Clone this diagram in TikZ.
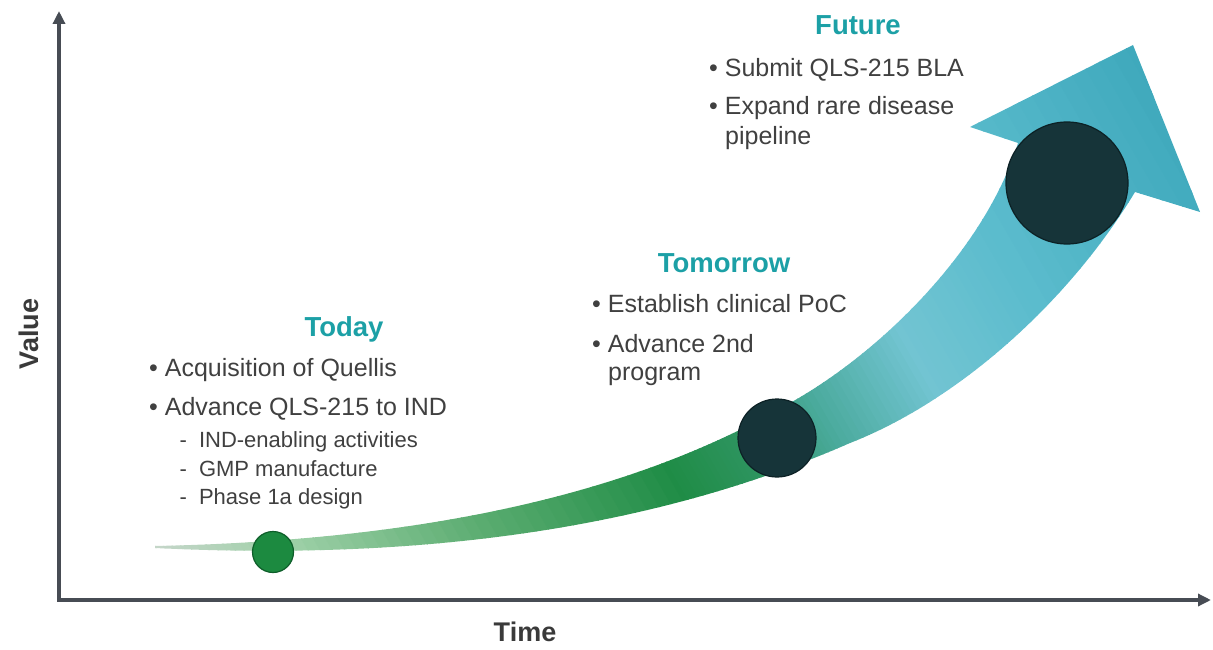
\documentclass[tikz,border=0pt]{standalone}
\usepackage{fontspec}
\setmainfont{Liberation Sans}
\usetikzlibrary{arrows.meta}
\definecolor{axisgray}{HTML}{474C54}
\definecolor{txtgray}{HTML}{404040}
\definecolor{titleteal}{HTML}{1CA0A6}
\definecolor{labgray}{HTML}{3A3A3A}
\definecolor{cA}{HTML}{C4D6C8}
\definecolor{cB}{HTML}{9CCFA6}
\definecolor{cC}{HTML}{5AAC70}
\definecolor{cD}{HTML}{1F8C46}
\definecolor{cE}{HTML}{2E9460}
\definecolor{cF}{HTML}{4AAA9C}
\definecolor{cG}{HTML}{72C4D2}
\definecolor{cH}{HTML}{5BBCCD}
\definecolor{cI}{HTML}{3BA6BA}
\definecolor{dotgreen}{HTML}{1C8A40}
\definecolor{dotgreenedge}{HTML}{0E5E2A}
\definecolor{dotdark}{HTML}{163439}
\definecolor{dotdarkedge}{HTML}{0C2125}
\begin{document}
\begin{tikzpicture}[x=1pt,y=-1pt,
  axis/.style={draw=axisgray,line width=4pt,{Triangle[length=13pt,width=12pt]}-{Triangle[length=13pt,width=12pt]}},
  body/.style={font=\fontsize{25}{30}\selectfont,text=txtgray,anchor=base west,inner sep=0pt},
  subitem/.style={font=\fontsize{22}{26}\selectfont,text=txtgray,anchor=base west,inner sep=0pt},
  phase/.style={font=\bfseries\fontsize{27.5}{33}\selectfont,text=titleteal,anchor=base,inner sep=0pt},
  axislabel/.style={font=\bfseries\fontsize{27}{32}\selectfont,text=labgray,inner sep=0pt},
  milestone/.style={circle,inner sep=0pt,line width=1.2pt}]
\useasboundingbox (0,0) rectangle (1213,650);

% axes
\coordinate (ytip) at (59,11);
\coordinate (origin) at (59,600);
\coordinate (xtip) at (1211,600);
\draw[axis] (ytip) -- (origin) -- (xtip);
\node[axislabel,rotate=90] (value) at (29,334) {Value};
\node[axislabel] (time) at (525,632) {Time};

% growth arrow
\coordinate (tail) at (155,547);
\coordinate (lnotch) at (1018,143);
\coordinate (lbarb) at (970,127);
\coordinate (tip) at (1133,45);
\coordinate (rbarb) at (1200,212);
\coordinate (rnotch) at (1135,192);
\begin{scope}
\clip (155,546) .. controls (450,540) and (650,485) .. (790,403)
  .. controls (880,353) and (985,250) .. (lnotch)
  -- (lbarb) -- (tip) -- (rbarb) -- (rnotch)
  .. controls (1070,300) and (960,400) .. (850,443)
  .. controls (640,535) and (400,560) .. (155,548)
  -- cycle;
\begin{scope}[shift={(tail)},rotate=30]
  \fill[cA] (-200,-900) rectangle (1,900);
  \foreach \sa/\sb/\ca/\cb in {0/120/cA/cB,120/290/cB/cC,290/480/cC/cD,480/560/cD/cE,560/640/cE/cF,640/750/cF/cG,750/880/cG/cH,880/1120/cH/cI}{
    \foreach \i in {0,...,15}{
      \pgfmathsetmacro\ss{\sa+(\sb-\sa)*\i/16}
      \pgfmathsetmacro\ww{(\sb-\sa)/16+1}
      \pgfmathtruncatemacro\pp{100-100*\i/16}
      \fill[\ca!\pp!\cb] (\ss,-900) rectangle ++(\ww,1800);
    }
  }
  \fill[cI] (1119,-900) rectangle (1400,900);
\end{scope}
\end{scope}

% milestones
\node[milestone,fill=dotgreen,draw=dotgreenedge,minimum size=41pt] (today) at (273,552) {};
\node[milestone,fill=dotdark,draw=dotdarkedge,minimum size=78pt] (tomorrow) at (777,438) {};
\node[milestone,fill=dotdark,draw=dotdarkedge,minimum size=122pt] (future) at (1067,183) {};

% Today
\node[phase] (todayT) at (344,336) {Today};
\node[body] (t1) at (149,376) {• Acquisition of Quellis};
\node[body] (t2) at (149,415) {• Advance QLS-215 to IND};
\node[subitem] (t3) at (179.5,447) {-\hspace{12pt}IND-enabling activities};
\node[subitem] (t4) at (179.5,476) {-\hspace{12pt}GMP manufacture};
\node[subitem] (t5) at (179.5,504) {-\hspace{12pt}Phase 1a design};

% Tomorrow
\node[phase] (tomorrowT) at (724,272) {Tomorrow};
\node[body] (m1) at (592,312) {• Establish clinical PoC};
\node[body] (m2) at (592,352) {• Advance 2nd};
\node[body] (m3) at (608,380) {program};

% Future
\node[phase] (futureT) at (858,35) {Future};
\node[body] (f1) at (709,77) {• Submit QLS-215 BLA};
\node[body] (f2) at (709,115) {• Expand rare disease};
\node[body] (f3) at (725,145) {pipeline};
\end{tikzpicture}
\end{document}
